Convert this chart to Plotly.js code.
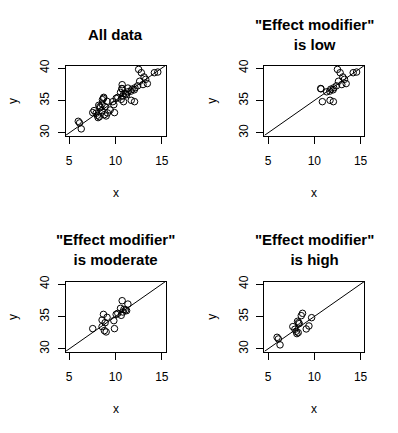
<!DOCTYPE html>
<html>
<head>
<meta charset="utf-8">
<script src="https://cdn.plot.ly/plotly-3.0.1.min.js"></script>
<style>html,body{margin:0;padding:0;background:#fff;}#chart{width:398px;height:433px;}</style>
</head>
<body>
<div id="chart"></div>
<script>
// ---- data ----
const panelTitles = ['All data', '"Effect modifier"<br>is low', '"Effect modifier"<br>is moderate', '"Effect modifier"<br>is high'];
const tickVals = [5, 10, 15];
const yTickVals = [30, 35, 40];
const xLimits = [5, 15];
const yLimits = [30, 40];
const lineIntercept = 25;
const lineSlope = 1;

const lowX = [12.50, 12.79, 14.20, 14.57, 13.08, 13.26, 12.61, 13.44, 12.97, 12.39, 12.10, 10.69, 10.72, 11.78, 12.03, 11.67, 11.34, 10.87, 11.70, 12.06];
const lowY = [39.80, 39.29, 39.29, 39.39, 38.63, 38.27, 37.97, 37.61, 37.46, 37.26, 36.95, 36.85, 36.80, 36.75, 36.65, 36.45, 36.34, 34.82, 35.03, 34.82];

const modX = [10.72, 11.34, 10.54, 10.91, 11.09, 11.20, 10.80, 10.07, 10.25, 10.62, 8.70, 9.09, 8.55, 9.82, 8.88, 7.54, 8.55, 8.80, 8.99, 9.89];
const modY = [37.44, 36.92, 36.26, 36.10, 36.00, 35.90, 35.69, 35.33, 35.49, 35.18, 35.33, 34.87, 34.46, 34.36, 34.05, 33.13, 33.44, 32.82, 32.62, 33.13];

const highX = [8.73, 8.59, 9.71, 8.19, 8.30, 8.37, 9.42, 9.13, 7.68, 7.90, 8.04, 8.26, 8.12, 5.98, 6.12, 6.30];
const highY = [35.49, 35.13, 34.82, 34.26, 34.05, 33.90, 33.54, 33.08, 33.44, 33.03, 32.72, 32.51, 32.36, 31.79, 31.54, 30.62];

const allX = lowX.concat(modX, highX);
const allY = lowY.concat(modY, highY);

// ---- layout helpers ----
const W = 398, H = 433;
const panels = [
  {x: allX, y: allY, left: 65.5, top: 65.5, titleY: 34},
  {x: lowX, y: lowY, left: 264.3, top: 65.5, titleY: 34.5},
  {x: modX, y: modY, left: 65.5, top: 281.5, titleY: 250},
  {x: highX, y: highY, left: 264.3, top: 281.5, titleY: 250}
];
const boxW = 100, boxH = 70;
function ext(l) { const r = l[1] - l[0]; return [l[0] - 0.04 * r, l[1] + 0.04 * r]; }
const xr = ext(xLimits), yr = ext(yLimits);

const FONT = 'Liberation Sans, Arial, sans-serif';
const traces = [];
const layout = {
  width: W, height: H,
  margin: {l: 0, r: 0, t: 0, b: 0},
  paper_bgcolor: '#fff', plot_bgcolor: '#fff',
  showlegend: false,
  font: {family: FONT, size: 12, color: '#000'},
  annotations: [], shapes: []
};

panels.forEach((p, i) => {
  const n = i + 1;
  const xa = 'x' + (n === 1 ? '' : n), ya = 'y' + (n === 1 ? '' : n);
  const xk = 'xaxis' + (n === 1 ? '' : n), yk = 'yaxis' + (n === 1 ? '' : n);
  traces.push({
    type: 'scatter', mode: 'markers', x: p.x, y: p.y, xaxis: xa, yaxis: ya,
    marker: {symbol: 'circle-open', size: 6.5, color: '#000', line: {width: 1, color: '#000'}},
    hoverinfo: 'skip', cliponaxis: true
  });
  traces.push({
    type: 'scatter', mode: 'lines', x: xr, y: xr.map(v => lineIntercept + lineSlope * v),
    xaxis: xa, yaxis: ya, line: {color: '#000', width: 1}, hoverinfo: 'skip'
  });
  const common = {
    showgrid: false, zeroline: false, showline: true, mirror: true,
    linecolor: '#000', linewidth: 1, ticks: 'outside', ticklen: 7, tickwidth: 1,
    tickcolor: '#000', tickfont: {family: FONT, size: 12, color: '#000'}, fixedrange: true
  };
  layout[xk] = Object.assign({}, common, {
    domain: [p.left / W, (p.left + boxW) / W], range: xr, tickvals: tickVals,
    anchor: ya, ticklabelstandoff: 7
  });
  layout[yk] = Object.assign({}, common, {
    domain: [1 - (p.top + boxH) / H, 1 - p.top / H], range: yr, tickvals: yTickVals,
    anchor: xa, tickangle: -90, ticklabelstandoff: 4
  });
  const cx = (p.left + boxW / 2) / W;
  layout.annotations.push({
    xref: 'paper', yref: 'paper', x: cx, y: 1 - p.titleY / H,
    text: '<b>' + panelTitles[i] + '</b>', showarrow: false,
    xanchor: 'center', yanchor: 'middle', align: 'center',
    font: {family: FONT, size: 15, color: '#000'}
  });
  layout.annotations.push({
    xref: 'paper', yref: 'paper', x: cx, y: 1 - (p.top + boxH + 57.5) / H,
    text: 'x', showarrow: false, xanchor: 'center', yanchor: 'middle',
    font: {family: FONT, size: 12, color: '#000'}
  });
  layout.annotations.push({
    xref: 'paper', yref: 'paper', x: (p.left - 53) / W, y: 1 - (p.top + boxH / 2) / H,
    text: 'y', showarrow: false, xanchor: 'center', yanchor: 'middle', textangle: -90,
    font: {family: FONT, size: 12, color: '#000'}
  });
});

Plotly.newPlot('chart', traces, layout, {staticPlot: true, displayModeBar: false});
</script>
</body>
</html>
